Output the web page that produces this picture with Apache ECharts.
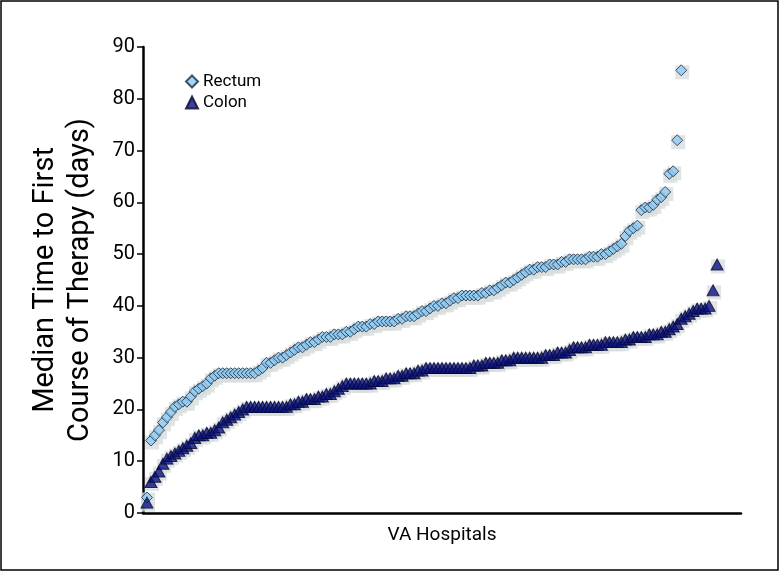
<!DOCTYPE html>
<html><head><meta charset="utf-8">
<script src="https://cdn.jsdelivr.net/npm/echarts@6/dist/echarts.min.js"></script>
<style>html,body{margin:0;padding:0;background:#fff}#c{width:780px;height:572px}</style>
</head><body><div id="c"></div>
<script>
var seriesNames = ['Rectum', 'Colon'];
var yTicks = [0,10,20,30,40,50,60,70,80,90];
var xLabel = 'VA Hospitals';
var yLabel = 'Median Time to First\nCourse of Therapy (days)';
// Median days, hospitals sorted ascending
var rectum = [3,14,15,16,17.5,18.5,19.5,20.5,21,21.5,21.5,22.5,23.5,24,24.5,25,26,26.5,27,27,
  27,27,27,27,27,27,27,27,27.5,28,29,29,29.5,30,30,30.5,31,31.5,32,32,
  32.5,33,33,33.5,34,34,34,34.5,34.5,34.5,35,35,35.5,36,36,36,36.5,36.5,37,37,
  37,37,37,37.5,37.5,38,38,38,38.5,39,39,39.5,40,40,40.5,40.5,41,41.5,41.5,42,
  42,42,42,42,42.5,42.5,43,43,43.5,44,44.5,44.5,45,45.5,46,46.5,47,47,47.5,47.5,
  47.5,48,48,48,48.5,48.5,49,49,49,49,49,49.5,49.5,49.5,50,50,50.5,51,51.5,52,
  53.5,54.5,55,55.5,58.5,59,59,59.5,60.5,61,62,65.5,66,72,85.5];
var colon = [2,6,7,8,9.5,10.5,11,11.5,12,12.5,13,13.5,14.5,15,15,15.5,15.5,16,16.5,17.5,
  18,18.5,19,19.5,20,20.5,20.5,20.5,20.5,20.5,20.5,20.5,20.5,20.5,20.5,20.5,21,21,21.5,21.5,
  22,22,22,22.5,22.5,23,23,23.5,24,24.5,25,25,25,25,25,25,25,25.5,25.5,25.5,
  26,26,26,26.5,26.5,27,27,27,27.5,27.5,28,28,28,28,28,28,28,28,28,28,
  28,28,28.5,28.5,28.5,29,29,29,29,29.5,29.5,29.5,30,30,30,30,30,30,30,30,
  30.5,30.5,30.5,31,31,31,31.5,32,32,32,32,32.5,32.5,32.5,32.5,33,33,33,33,33,
  33.5,33.5,34,34,34,34,34.5,34.5,34.5,35,35,35.5,36,36.5,37.5,38,38.5,39,39.5,39.5,
  39.5,40,43,48];

function pts(arr){ return arr.map(function(v,i){ return [i+1, v]; }); }
var FONT = "Roboto,'Liberation Sans',sans-serif";
var chart = echarts.init(document.getElementById('c'), null, {renderer:'canvas'});
chart.setOption({
  animation: false,
  backgroundColor: '#fff',
  textStyle: {fontFamily: FONT},
  graphic: [{type:'rect', shape:{x:1, y:1, width:777, height:569}, style:{fill:'none', stroke:'#000', lineWidth:1.5}, z:100}],
  grid: {left:143, right:39, top:47, bottom:59, containLabel:false, outerBoundsMode:'none'},
  legend: {
    data: seriesNames, orient:'vertical', left:180, top:68, itemGap:4, itemWidth:12, itemHeight:12,
    textStyle:{fontFamily:FONT, fontSize:17, color:'#000'}
  },
  xAxis: {
    type:'value', min:0, max:150, name:xLabel, nameLocation:'middle', nameGap:13,
    nameTextStyle:{fontFamily:FONT, fontSize:19, color:'#000'},
    axisLine:{show:true, lineStyle:{color:'#000', width:2.5}}, axisTick:{show:false}, axisLabel:{show:false}, splitLine:{show:false}
  },
  yAxis: {
    type:'value', min:yTicks[0], max:yTicks[yTicks.length-1], interval:10,
    name:yLabel, nameLocation:'middle', nameGap:45, nameRotate:90,
    nameTextStyle:{fontFamily:FONT, fontSize:29, color:'#000', lineHeight:35},
    axisLine:{show:true, lineStyle:{color:'#000', width:2.5}},
    axisTick:{show:true, inside:false, length:6, lineStyle:{color:'#000', width:1.5}},
    axisLabel:{fontFamily:FONT, fontSize:20, color:'#000', margin:8},
    splitLine:{show:false}
  },
  series: [
    {name:'Rectum shade', type:'scatter', data:pts(rectum), symbol:'rect', symbolSize:14, symbolOffset:[1,2], silent:true, z:1,
     itemStyle:{color:'#d8dddd'}},
    {name:'Colon shade', type:'scatter', data:pts(colon), symbol:'rect', symbolSize:14, symbolOffset:[1,2], silent:true, z:1,
     itemStyle:{color:'#d8dddd'}},
    {name:'Rectum', type:'scatter', data:pts(rectum), symbol:'diamond', symbolSize:11, z:3,
     itemStyle:{color:'#8ecaf2', borderColor:'#1a2a40', borderWidth:1}},
    {name:'Colon', type:'scatter', data:pts(colon), symbol:'triangle', symbolSize:[12,11], z:3,
     itemStyle:{color:'#0b1280', borderColor:'#050830', borderWidth:1}}
  ]
});
</script></body></html>
